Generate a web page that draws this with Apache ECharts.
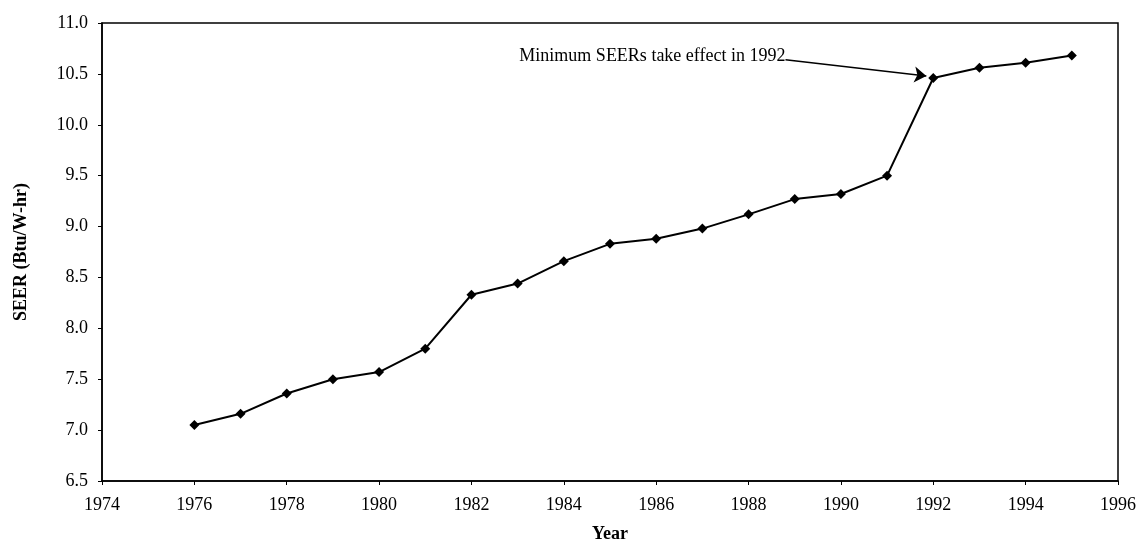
<!DOCTYPE html>
<html>
<head>
<meta charset="utf-8">
<script src="https://cdn.jsdelivr.net/npm/echarts@6/dist/echarts.min.js"></script>
<style>
  html, body { margin: 0; padding: 0; background: #fff; }
  #chart { width: 1142px; height: 542px; }
</style>
</head>
<body>
<div id="chart"></div>
<script>
const years = [1976, 1977, 1978, 1979, 1980, 1981, 1982, 1983, 1984, 1985,
  1986, 1987, 1988, 1989, 1990, 1991, 1992, 1993, 1994, 1995];
const seer = [7.05, 7.16, 7.36, 7.50, 7.57, 7.80, 8.33, 8.44, 8.66, 8.83,
  8.88, 8.98, 9.12, 9.27, 9.32, 9.50, 10.46, 10.56, 10.61, 10.68];

const noteText = 'Minimum SEERs take effect in 1992';
const noteFrom = [1988.8, 10.64];
const noteTo = [1991.85, 10.48];

const font = '"Liberation Serif", "Times New Roman", serif';

const chart = echarts.init(document.getElementById('chart'), null, { renderer: 'canvas' });

chart.setOption({
  animation: false,
  backgroundColor: '#fff',
  grid: {
    left: 102, right: 24, top: 23, bottom: 61,
    outerBoundsMode: 'none',
    containLabel: false,
    show: true, borderColor: '#000', borderWidth: 1.5
  },
  xAxis: {
    type: 'value',
    min: 1974, max: 1996, interval: 2,
    name: 'Year',
    nameLocation: 'middle',
    nameGap: 44,
    nameTextStyle: { fontFamily: font, fontWeight: 'bold', fontSize: 18, color: '#000' },
    axisLine: { lineStyle: { color: '#000', width: 1.5 } },
    axisTick: { show: true, length: 4, lineStyle: { color: '#000' } },
    axisLabel: { fontFamily: font, fontSize: 18, color: '#000', margin: 15,
      formatter: v => String(v) },
    splitLine: { show: false }
  },
  yAxis: {
    type: 'value',
    min: 6.5, max: 11.0, interval: 0.5,
    name: 'SEER (Btu/W-hr)',
    nameLocation: 'middle',
    nameGap: 72,
    nameTextStyle: { fontFamily: font, fontWeight: 'bold', fontSize: 18, color: '#000' },
    axisLine: { show: true, lineStyle: { color: '#000', width: 1.5 } },
    axisTick: { show: true, length: 4, lineStyle: { color: '#000' } },
    axisLabel: { fontFamily: font, fontSize: 18, color: '#000', margin: 14,
      formatter: v => v.toFixed(1) },
    splitLine: { show: false }
  },
  series: [{
    type: 'line',
    data: years.map((y, i) => [y, seer[i]]),
    symbol: 'diamond',
    symbolSize: 10,
    lineStyle: { color: '#000', width: 2 },
    itemStyle: { color: '#000' },
    markLine: {
      silent: true,
      symbol: ['none', 'arrow'],
      symbolSize: 12,
      lineStyle: { color: '#000', width: 1.5, type: 'solid' },
      label: { show: false },
      data: [[{ coord: noteFrom }, { coord: noteTo }]]
    },
    markPoint: {
      silent: true,
      symbol: 'circle',
      symbolSize: 0,
      label: {
        show: true,
        position: 'left',
        distance: 0,
        formatter: noteText,
        fontFamily: font,
        fontSize: 18,
        color: '#000',
        offset: [0, -3]
      },
      data: [{ coord: noteFrom }]
    }
  }]
});
</script>
</body>
</html>
